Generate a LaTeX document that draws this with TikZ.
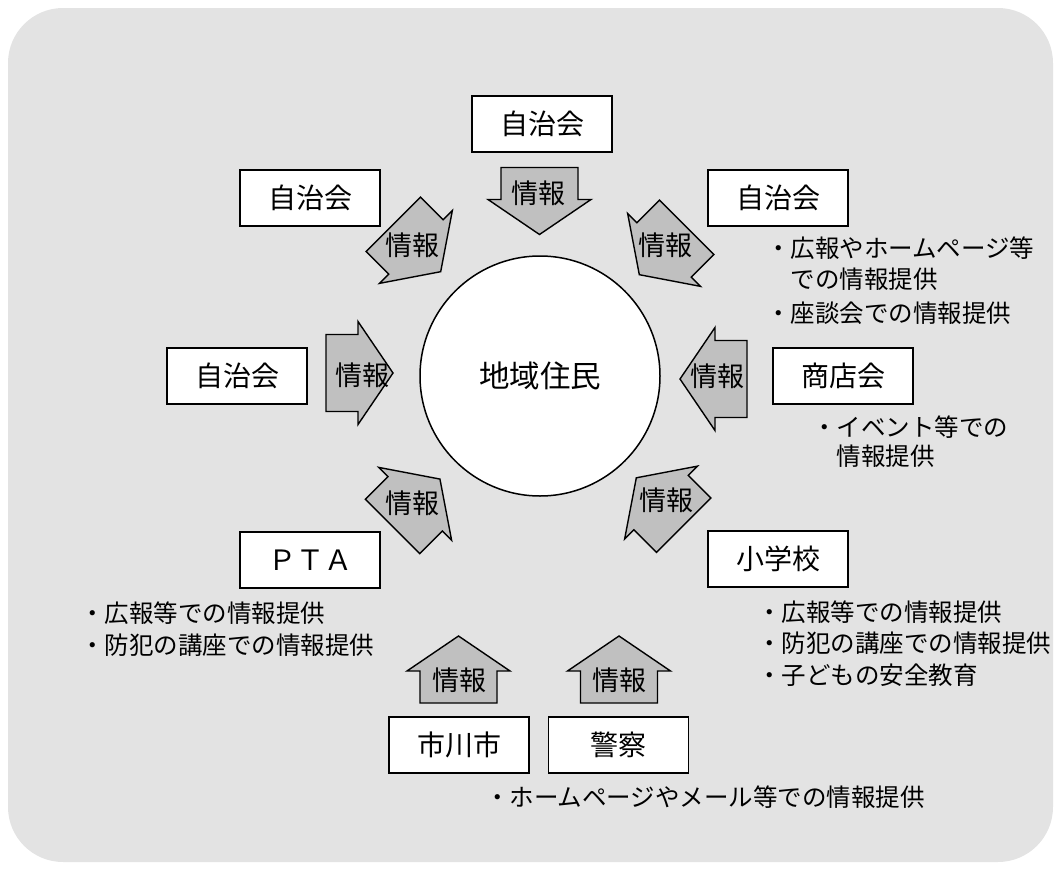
\documentclass[tikz,border=0pt]{standalone}
\usepackage{fontspec}
\setmainfont{Noto Sans CJK JP}
\definecolor{bgc}{RGB}{227,227,227}
\definecolor{arrc}{RGB}{192,192,192}
\newcommand\infoarrow[2]{%
  \begin{scope}[shift={(#1)},rotate=#2]
    \draw[arrowshape] (-33.5,-38.5) -- (-1.5,-38.5) -- (-1.5,-51.5) -- (33.5,0)
      -- (-1.5,51.5) -- (-1.5,38.5) -- (-33.5,38.5) -- cycle;
  \end{scope}}
\begin{document}
\begin{tikzpicture}[x=1pt,y=-1pt,
  box/.style={draw, line width=1.5pt, fill=white, minimum width=140pt, minimum height=56pt, inner sep=0pt, font=\fontsize{28}{30}\selectfont},
  arrowshape/.style={draw, line width=1.4pt, fill=arrc, line join=miter},
  info/.style={font=\fontsize{27}{29}\selectfont, inner sep=0pt},
  note/.style={font=\fontsize{24.5}{26}\selectfont, anchor=west, inner sep=0pt}]
\useasboundingbox (0,0) rectangle (1061,870);
\fill[bgc, rounded corners=55pt] (8,8) rectangle (1053,862);

% centre
\node[draw, circle, line width=1.5pt, fill=white, minimum size=240pt, inner sep=0pt, font=\fontsize{30.5}{32}\selectfont] (c) at (540,376) {地域住民};

% boxes
\node[box] (b1) at (542,124) {自治会};
\node[box] (b2) at (310,198) {自治会};
\node[box] (b3) at (778,198) {自治会};
\node[box] (b4) at (237,376) {自治会};
\node[box] (b5) at (843,376) {商店会};
\node[box] (b6) at (310,560) {ＰＴＡ};
\node[box] (b7) at (778,559) {小学校};
\node[box] (b8) at (459,745) {市川市};
\node[box] (b9) at (618.5,745) {警察};

% arrows
\infoarrow{539.5,201}{-90}
\infoarrow{417,248}{-45}
\infoarrow{663,251}{-135}
\infoarrow{359.5,373}{0}
\infoarrow{713.5,379}{180}
\infoarrow{416.25,502.75}{45}
\infoarrow{660,501.5}{135}
\infoarrow{458.5,669.5}{90}
\infoarrow{619,669.5}{90}

\node[info] (i1) at (538.5,193.5) {情報};
\node[info] (i2) at (412,245) {情報};
\node[info] (i3) at (665,245) {情報};
\node[info] (i4) at (362,375) {情報};
\node[info] (i5) at (717.5,376) {情報};
\node[info] (i6) at (412,503) {情報};
\node[info] (i7) at (666,500) {情報};
\node[info] (i8) at (459,680) {情報};
\node[info] (i9) at (619,680) {情報};

% notes
\node[note] (n1) at (766,248) {・広報やホームページ等};
\node[note] (n2) at (790.5,279) {での情報提供};
\node[note] (n3) at (766,313) {・座談会での情報提供};
\node[note] (n4) at (812,427) {・イベント等での};
\node[note] (n5) at (836.5,456) {情報提供};
\node[note] (n6) at (80,613) {・広報等での情報提供};
\node[note] (n7) at (80,645) {・防犯の講座での情報提供};
\node[note] (n8) at (757,612) {・広報等での情報提供};
\node[note] (n9) at (757,643) {・防犯の講座での情報提供};
\node[note] (n10) at (757,675) {・子どもの安全教育};
\node[note] (n11) at (485,797) {・ホームページやメール等での情報提供};
\end{tikzpicture}
\end{document}
